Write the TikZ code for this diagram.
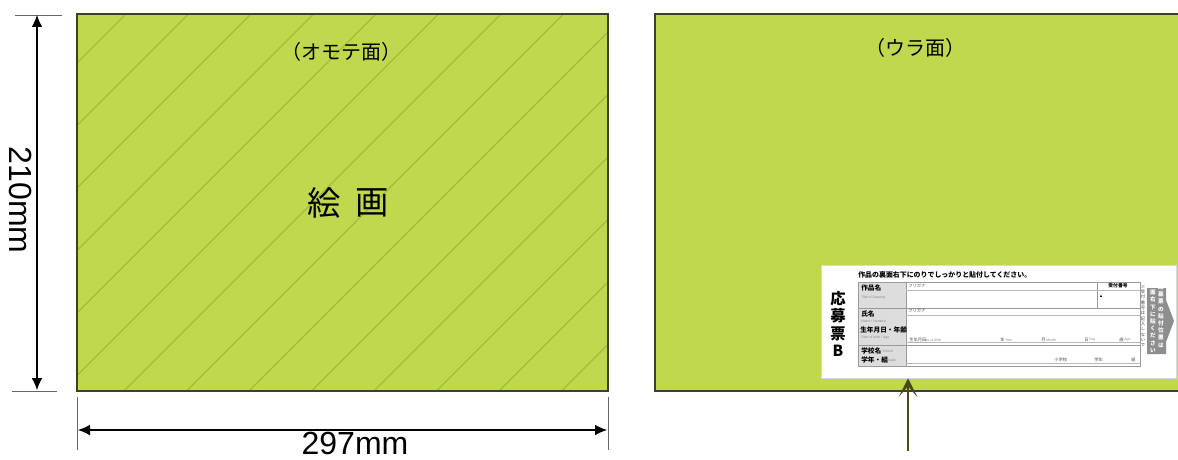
\documentclass[tikz,border=0pt]{standalone}
\usepackage{fontspec}
\setmainfont{Liberation Sans}
\newfontfamily\jp{Noto Sans CJK JP}
\usetikzlibrary{arrows.meta}
\definecolor{lime}{HTML}{BFD84E}
\definecolor{hatch}{HTML}{A2BE36}
\definecolor{edge}{HTML}{3F4028}
\definecolor{olive}{HTML}{4A4A1E}
\definecolor{tabgray}{HTML}{8E8E8E}
\definecolor{formline}{HTML}{9A9A9A}
\definecolor{labelfill}{HTML}{DDDDDD}
\begin{document}
\begin{tikzpicture}[x=0.75pt,y=-0.75pt,
  sheetedge/.style={draw=edge,line width=1.1pt},
  hatchline/.style={draw=hatch,line width=0.9pt},
  dimline/.style={draw=black,line width=0.8pt,{Latex[length=9pt,width=8pt]}-{Latex[length=9pt,width=8pt]}},
  tickline/.style={draw=black!60,line width=0.5pt},
  dimtext/.style={font=\fontsize{24pt}{24pt}\selectfont,inner sep=0pt},
  sidetext/.style={font=\jp\fontsize{15pt}{15pt}\selectfont,inner sep=0pt},
  bigtext/.style={font=\jp\fontsize{25pt}{26pt}\selectfont,inner sep=0pt},
  fline/.style={draw=formline,line width=0.4pt},
  fthin/.style={draw=formline!70,line width=0.3pt},
  flabel/.style={font=\jp\bfseries\fontsize{5pt}{5pt}\selectfont,inner sep=0pt,anchor=west},
  fsub/.style={font=\fontsize{2.6pt}{3pt}\selectfont,text=black!45,inner sep=0pt,anchor=west},
  ftiny/.style={font=\jp\fontsize{3.2pt}{3.2pt}\selectfont,text=black!70,inner sep=0pt,anchor=west},
  fhead/.style={font=\jp\bfseries\fontsize{5.2pt}{5.2pt}\selectfont,inner sep=0pt,anchor=west},
  pointer/.style={draw=olive,line width=1.5pt,-{Stealth[length=14pt,width=14pt,inset=8pt]}}
]
\useasboundingbox (0,0) rectangle (1178,460);
\fill[white] (0,0) rectangle (1178,460);

% ---------- front sheet ----------
\coordinate (fTL) at (77,14);
\coordinate (fBR) at (608,391);
\fill[lime] (fTL) rectangle (fBR);
\begin{scope}
  \clip (fTL) rectangle (fBR);
  \foreach \k in {-1,...,14} {
    \draw[hatchline] ({140+62.5*\k-420},420) -- ({140+62.5*\k},0);
  }
\end{scope}
\draw[sheetedge] (fTL) rectangle (fBR);
\node[sidetext] (front) at (341,52) {（オモテ面）};
\node[bigtext] (e1) at (324,203) {絵};
\node[bigtext] (e2) at (372,203) {画};

% ---------- dimensions ----------
\coordinate (vt1) at (15,15);  \coordinate (vt2) at (62,15);
\coordinate (vb1) at (12,391); \coordinate (vb2) at (57,391);
\draw[tickline] (vt1) -- (vt2);
\draw[tickline] (vb1) -- (vb2);
\coordinate (vtop) at (37,15);
\coordinate (vbot) at (37,390);
\draw[dimline] (vtop) -- (vbot);
\node[dimtext,rotate=-90] (h210) at (21,200) {210mm};

\coordinate (ht1) at (77,397);  \coordinate (hb1) at (77,450);
\coordinate (ht2) at (608,397); \coordinate (hb2) at (608,450);
\draw[tickline] (ht1) -- (hb1);
\draw[tickline] (ht2) -- (hb2);
\coordinate (hl) at (78,430);
\coordinate (hr) at (607,430);
\draw[dimline] (hl) -- (hr);
\node[dimtext] (w297) at (355,443) {297mm};

% ---------- back sheet ----------
\fill[lime] (655,14) rectangle (1178,391);
\draw[sheetedge] (1179,14) -- (655,14) -- (655,391) -- (1179,391);
\node[sidetext] (back) at (915,48) {（ウラ面）};

% ---------- entry form ----------
\node[fill=white,draw=black!15,line width=0.4pt,inner sep=0pt,
      minimum width=266.25pt,minimum height=84.75pt] (form) at (998.5,321.5) {};

\node[font=\jp\bfseries\fontsize{11.5pt}{13.2pt}\selectfont,align=center,inner sep=0pt]
  (ttl) at (838,324) {応\\募\\票\\B};

\node[fhead] (hd) at (858,275) {作品の裏面右下にのりでしっかりと貼付してください。};

% table
\fill[labelfill] (858,282) rectangle (906,366);
\draw[fline] (858,282) rectangle (1140,366);
\draw[fline] (906,282) -- (906,366);
\draw[fline] (858,308) -- (1140,308);
\draw[fline] (858,345) -- (1140,345);
\draw[fline] (1097,282) -- (1097,308);
\draw[fthin] (906,290) -- (1097,290);
\draw[fthin] (1097,290) -- (1140,290);
\draw[fthin] (906,315) -- (1140,315);
\draw[fthin] (906,342) -- (1140,342);
\draw[fthin] (906,363) -- (1140,363);

\node[flabel] (l1) at (861,288) {作品名};
\node[fsub] (s1) at (861,298) {Title of Drawing};
\node[flabel] (l2) at (861,314) {氏名};
\node[fsub] (s2) at (861,321) {Name / Nombre};
\node[flabel] (l3) at (860,330) {生年月日・年齢};
\node[fsub] (s3) at (861,338) {Date of birth / Age};
\node[flabel] (l4) at (861,351) {学校名};
\node[fsub] (s4) at (882,351) {School};
\node[flabel] (l5) at (861,360) {学年・組};
\node[fsub] (s5) at (886,360) {Grade};

\node[ftiny] (f1) at (908,286) {フリガナ};
\node[ftiny] (f2) at (908,311) {フリガナ};
\node[font=\jp\bfseries\fontsize{3.6pt}{3.6pt}\selectfont,inner sep=0pt] (uk) at (1118,286) {受付番号};
\node[font=\fontsize{3pt}{3pt}\selectfont,inner sep=0pt] (uk2) at (1101,296) {▲};

\node[ftiny] (b1) at (909,340) {生年月日};
\node[fsub] (b1e) at (922,340) {Date of birth};
\node[ftiny] (b2) at (1000,340) {年};
\node[fsub] (b2e) at (1005,340) {Year};
\node[ftiny] (b3) at (1041,340) {月};
\node[fsub] (b3e) at (1046,340) {Month};
\node[ftiny] (b4) at (1084,340) {日};
\node[fsub] (b4e) at (1089,340) {Day};
\node[ftiny] (b5) at (1119,340) {歳};
\node[fsub] (b5e) at (1124,340) {Age};

\node[ftiny] (c1) at (1054,360) {小学校};
\node[ftiny] (c2) at (1094,360) {学年};
\node[ftiny] (c3) at (1131,360) {組};

\node[font=\jp\fontsize{3.2pt}{4pt}\selectfont,align=center,inner sep=0pt,text=black!75]
  (note) at (1143,316) {※\\受\\付\\番\\号\\は\\記\\入\\し\\な\\い\\で};

% tab
\fill[tabgray] (1147,288) -- (1166,288) -- (1166,300) -- (1174,321) -- (1166,342)
  -- (1166,354) -- (1147,354) -- cycle;
\node[font=\jp\bfseries\fontsize{4.2pt}{5.4pt}\selectfont,align=center,inner sep=0pt,text=white]
  (tab1) at (1161,316) {応\\募\\票\\の\\貼\\付\\位\\置\\は};
\node[font=\jp\bfseries\fontsize{4.2pt}{5.4pt}\selectfont,align=center,inner sep=0pt,text=white]
  (tab2) at (1153,321) {裏\\面\\右\\下\\に\\貼\\く\\だ\\さ\\い\\・};

% pointer arrow
\coordinate (ptr) at (908,451);
\draw[pointer] (ptr) -- (ptr |- form.south);
\end{tikzpicture}
\end{document}
